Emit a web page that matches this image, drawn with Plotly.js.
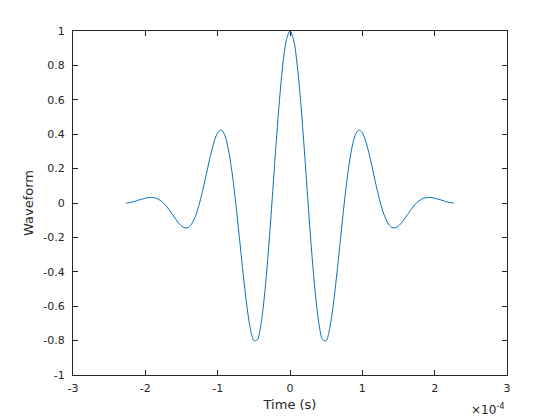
<!DOCTYPE html>
<html>
<head>
<meta charset="utf-8">
<script src="https://cdn.plot.ly/plotly-3.0.1.min.js"></script>
<style>html,body{margin:0;padding:0;background:#fff;}#chart{width:560px;height:420px;}</style>
</head>
<body>
<div id="chart"></div>
<script>
// Time in units of 1e-4 s
const timeE4 = [-2.27,-2.25,-2.20,-2.15,-2.10,-2.05,-2.00,-1.95,-1.90,-1.85,-1.80,-1.75,-1.70,-1.65,-1.60,-1.55,-1.50,-1.45,-1.40,-1.35,-1.30,-1.25,-1.20,-1.15,-1.10,-1.05,-1.00,-0.95,-0.90,-0.85,-0.80,-0.75,-0.70,-0.65,-0.60,-0.55,-0.50,-0.45,-0.40,-0.35,-0.30,-0.25,-0.20,-0.15,-0.10,-0.05,0,
0.05,0.10,0.15,0.20,0.25,0.30,0.35,0.40,0.45,0.50,0.55,0.60,0.65,0.70,0.75,0.80,0.85,0.90,0.95,1.00,1.05,1.10,1.15,1.20,1.25,1.30,1.35,1.40,1.45,1.50,1.55,1.60,1.65,1.70,1.75,1.80,1.85,1.90,1.95,2.00,2.05,2.10,2.15,2.20,2.25,2.27];
const waveform = [-0.001,0,0.004,0.009,0.016,0.022,0.028,0.032,0.032,0.028,0.017,0,-0.023,-0.052,-0.082,-0.111,-0.134,-0.145,-0.141,-0.115,-0.068,0,0.085,0.180,0.275,0.355,0.409,0.425,0.392,0.308,0.174,0,-0.200,-0.403,-0.587,-0.726,-0.800,-0.794,-0.701,-0.527,-0.285,0,0.298,0.576,0.802,0.949,1,
0.949,0.802,0.576,0.298,0,-0.285,-0.527,-0.701,-0.794,-0.800,-0.726,-0.587,-0.403,-0.200,0,0.174,0.308,0.392,0.425,0.409,0.355,0.275,0.180,0.085,0,-0.068,-0.115,-0.141,-0.145,-0.134,-0.111,-0.082,-0.052,-0.023,0,0.017,0.028,0.032,0.032,0.028,0.022,0.016,0.009,0.004,0,-0.001];
const xTicks = [-3,-2,-1,0,1,2,3];
const yTicks = [-1,-0.8,-0.6,-0.4,-0.2,0,0.2,0.4,0.6,0.8,1];
const yTickText = ['-1','-0.8','-0.6','-0.4','-0.2','0','0.2','0.4','0.6','0.8','1'];

const axisCommon = {
  showgrid:false, zeroline:false, showline:true, linecolor:'#262626', linewidth:1,
  mirror:'ticks', ticks:'inside', ticklen:5, tickwidth:1, tickcolor:'#262626',
  tickfont:{family:'DejaVu Sans', size:11, color:'#262626'}
};
const layout = {
  width:560, height:420,
  margin:{l:73, r:53, t:31, b:45},
  paper_bgcolor:'#fff', plot_bgcolor:'#fff',
  showlegend:false,
  xaxis:Object.assign({}, axisCommon, {
    range:[-3,3], tickvals:xTicks, ticktext:xTicks.map(String), ticklabelstandoff:3,
    title:{text:'Time (s)', font:{family:'DejaVu Sans', size:13, color:'#262626'}, standoff:5}
  }),
  yaxis:Object.assign({}, axisCommon, {
    range:[-1,1], tickvals:yTicks, ticktext:yTickText, ticklabelstandoff:5,
    title:{text:'Waveform', font:{family:'DejaVu Sans', size:13, color:'#262626'}, standoff:6}
  }),
  annotations:[{
    text:'×10<sup>-4</sup>', xref:'paper', yref:'paper', x:1, y:0,
    xanchor:'right', yanchor:'top', xshift:0, yshift:-24, showarrow:false,
    font:{family:'DejaVu Sans', size:12, color:'#262626'}
  }]
};
Plotly.newPlot('chart', [{
  x: timeE4, y: waveform, type:'scatter', mode:'lines',
  line:{color:'#0072BD', width:1, shape:'spline', smoothing:0.8}
}], layout, {staticPlot:true, displayModeBar:false});
</script>
</body>
</html>
